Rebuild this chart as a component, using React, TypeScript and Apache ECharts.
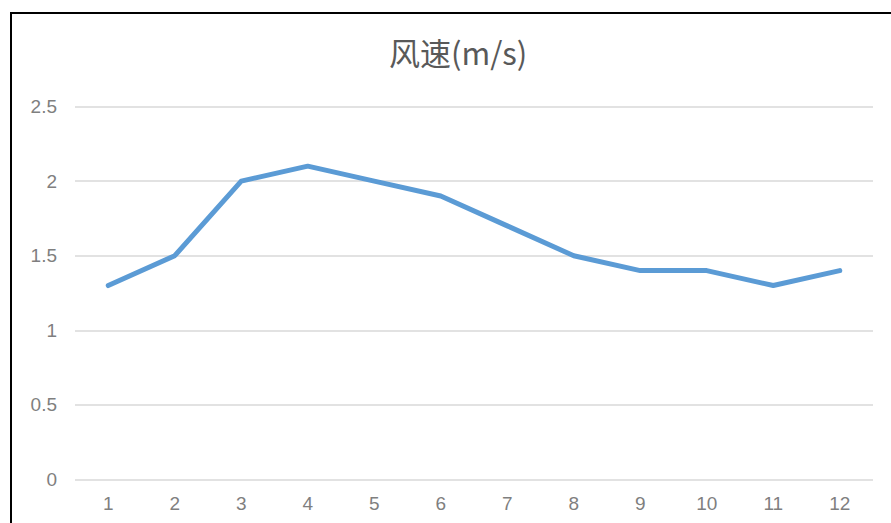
import React, { useEffect, useRef } from "react";
import * as echarts from "echarts";

const titleText = "风速(m/s)";
const categories = ["1", "2", "3", "4", "5", "6", "7", "8", "9", "10", "11", "12"];
const windSpeed = [1.3, 1.5, 2.0, 2.1, 2.0, 1.9, 1.7, 1.5, 1.4, 1.4, 1.3, 1.4];
const yMin = 0;
const yMax = 2.5;
const yInterval = 0.5;

export default function App() {
  const ref = useRef<HTMLDivElement>(null);
  useEffect(() => {
    if (!ref.current) return;
    const chart = echarts.init(ref.current, undefined, { renderer: "svg" });
    const font = "'Liberation Sans', Arial, 'Noto Sans CJK SC', sans-serif";
    chart.setOption({
      animation: false,
      backgroundColor: "#ffffff",
      title: {
        text: titleText,
        left: 384,
        top: 31,
        textStyle: {
          fontSize: 31,
          fontWeight: "normal",
          color: "#595959",
          fontFamily: "'Noto Sans CJK SC', sans-serif",
        },
      },
      graphic: [
        {
          type: "polyline",
          shape: { points: [[11, 523], [11, 13], [891, 13]] },
          style: { stroke: "#000000", lineWidth: 2, fill: "none" },
          silent: true,
        },
      ],
      grid: { left: 75, right: 18, top: 106.5, bottom: 43.5 },
      xAxis: {
        type: "category",
        data: categories,
        boundaryGap: true,
        axisLine: { show: false },
        axisTick: { show: false },
        axisLabel: { color: "#7f7f7f", fontSize: 19, margin: 14, fontFamily: font },
        splitLine: { show: false },
      },
      yAxis: {
        type: "value",
        min: yMin,
        max: yMax,
        interval: yInterval,
        axisLine: { show: false },
        axisTick: { show: false },
        axisLabel: { color: "#7f7f7f", fontSize: 19, margin: 18, fontFamily: font },
        splitLine: { lineStyle: { color: "#d9d9d9", width: 1.5 } },
      },
      series: [
        {
          type: "line",
          data: windSpeed,
          symbol: "none",
          lineStyle: { color: "#5b9bd5", width: 5, cap: "round", join: "round" },
        },
      ],
    });
    return () => chart.dispose();
  }, []);
  return (
    <div
      ref={ref}
      style={{ position: "fixed", left: 0, top: 0, width: 891, height: 523 }}
    />
  );
}
